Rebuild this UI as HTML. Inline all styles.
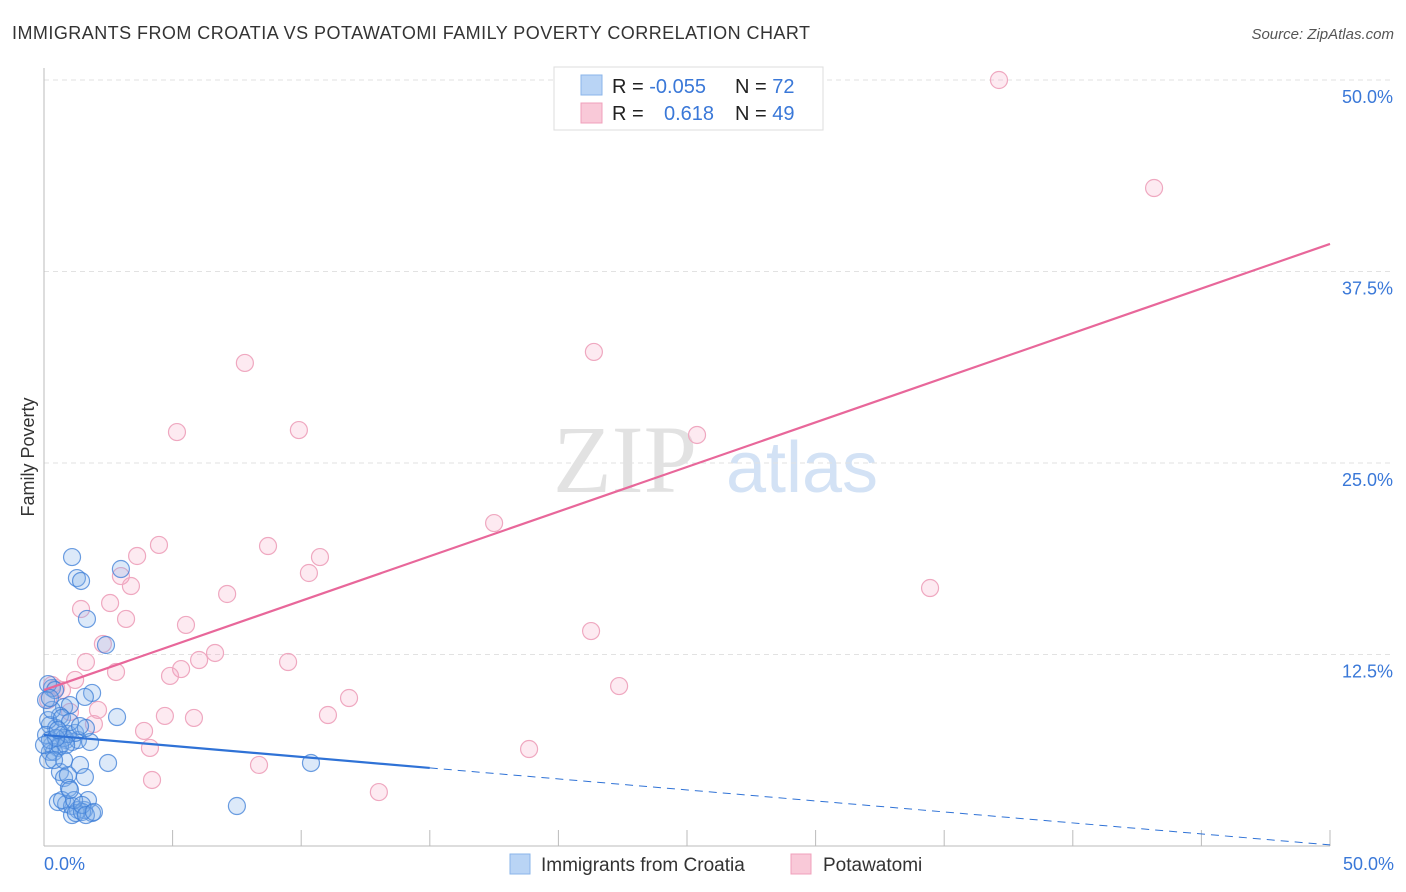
<!DOCTYPE html>
<html><head><meta charset="utf-8"><style>
body{margin:0;background:#fff;font-family:"Liberation Sans",sans-serif}
svg{display:block}
</style></head><body>
<svg id="chart" width="1406" height="892" xmlns="http://www.w3.org/2000/svg">
<text x="12" y="39" font-size="18" fill="#333" textLength="798">IMMIGRANTS FROM CROATIA VS POTAWATOMI FAMILY POVERTY CORRELATION CHART</text>
<text x="1394" y="39" font-size="15" fill="#555" font-style="italic" text-anchor="end">Source: ZipAtlas.com</text>
<text x="34" y="457" font-size="18" fill="#333" text-anchor="middle" transform="rotate(-90 34 457)">Family Poverty</text>
<text x="625" y="492" font-size="96" fill="#e2e2e2" font-family="Liberation Serif,serif" text-anchor="middle">ZIP</text>
<text x="802" y="492" font-size="72" fill="#d3e2f5" text-anchor="middle">atlas</text>
<g id="grid"></g><g id="axes"></g><g id="pts"></g><g id="trend"></g>
<g>
<rect x="554" y="67" width="269" height="63" fill="#fff" stroke="#ddd"/>
<rect x="581" y="75" width="21" height="20" fill="#b9d4f5" stroke="#8ab4ea"/>
<rect x="581" y="103" width="21" height="20" fill="#f9c9d8" stroke="#f0a0bb"/>
<text x="612" y="93" font-size="20" fill="#222">R = <tspan fill="#3a78d8">-0.055</tspan></text>
<text x="735" y="93" font-size="20" fill="#222">N = <tspan fill="#3a78d8">72</tspan></text>
<text x="612" y="120" font-size="20" fill="#222">R = <tspan fill="#3a78d8" x="664">0.618</tspan></text>
<text x="735" y="120" font-size="20" fill="#222">N = <tspan fill="#3a78d8">49</tspan></text>
</g>
<g>
<rect x="510" y="854" width="20" height="20" fill="#b9d4f5" stroke="#8ab4ea"/>
<text x="541" y="871" font-size="19" fill="#333">Immigrants from Croatia</text>
<rect x="791" y="854" width="20" height="20" fill="#f9c9d8" stroke="#f0a0bb"/>
<text x="823" y="871" font-size="19" fill="#333">Potawatomi</text>
</g>
</svg>
<script>
const yTicks=[12.5,25,37.5,50];
const yTickLabels=["12.5%","25.0%","37.5%","50.0%"];
const xTickLabels=["0.0%","50.0%"];
const croatiaX=[1.09,1.28,1.44,1.67,2.99,2.41,2.84,7.50,10.38,1.87,1.59,0.78,1.01,0.31,0.16,0.43,0.62,0.23,0.47,0.70,0.86,1.09,1.32,1.79,0.31,0.54,0.78,0.23,0.39,0.62,0.93,1.21,1.63,0.16,0.08,0.23,1.40,2.49,0.62,0.78,0.93,1.59,0.97,0.54,0.86,1.09,1.32,1.56,1.71,1.87,1.09,1.24,1.48,0.70,1.17,0.86,0.47,0.16,0.31,0.70,1.01,1.40,0.08,0.23,0.54,0.78,1.01,1.48,1.63,1.94,0.00,0.39];
const croatiaY=[18.86,17.49,17.30,14.82,18.08,13.12,8.42,2.61,5.42,9.99,9.73,9.07,9.20,10.31,10.57,10.18,8.49,7.90,7.70,7.25,6.92,6.79,6.92,6.79,6.59,6.40,7.05,6.14,6.14,6.53,7.31,7.38,7.70,8.22,7.25,6.92,5.29,5.42,4.83,4.44,4.63,4.50,3.79,2.87,2.74,2.61,2.35,2.35,3.00,2.15,2.02,2.15,2.22,3.00,3.00,6.59,7.05,5.61,8.88,8.36,8.09,7.83,9.53,9.66,7.57,5.61,3.66,2.68,2.02,2.22,6.59,5.61];
const potaX=[37.13,43.16,21.38,7.81,5.17,9.91,25.39,17.50,34.45,21.27,22.36,4.47,8.71,3.62,10.73,10.30,2.99,3.38,7.12,1.44,2.57,3.19,5.52,2.29,6.65,6.03,9.49,5.33,4.90,1.63,2.80,1.21,11.86,4.70,5.83,11.04,1.94,3.89,18.86,4.12,8.36,4.20,13.02,0.31,0.47,0.70,0.16,1.01,2.10];
const potaY=[50.0,42.95,32.25,31.53,27.02,27.15,26.83,21.08,16.84,14.03,10.44,19.65,19.58,18.93,18.86,17.82,17.62,16.97,16.45,15.47,15.86,14.82,14.43,13.19,12.60,12.14,12.01,11.55,11.10,12.01,11.36,10.84,9.66,8.49,8.36,8.55,7.96,7.51,6.33,6.40,5.29,4.31,3.52,10.51,10.31,10.18,9.53,8.75,8.88];
const potaTrend=[10.18,39.3];
const croTrend=[7.25,0.07];
const croSolidEnd=15;
const X=v=>44+v*25.72, Y=v=>846-v*15.32;
const NS="http://www.w3.org/2000/svg";
function mk(t,a,p){const e=document.createElementNS(NS,t);for(const k in a)e.setAttribute(k,a[k]);p.appendChild(e);return e;}
const grid=document.getElementById('grid'),axes=document.getElementById('axes');
yTicks.forEach((t,i)=>{
 const l=mk('line',{x1:44,x2:1394,y1:Y(t),y2:Y(t),stroke:'#e2e2e2','stroke-dasharray':'5,4'},grid);
 
 
 const tx=mk('text',{x:1393,y:Y(t)+23,'font-size':18,fill:'#3a78d8','text-anchor':'end'},grid);
 tx.textContent=yTickLabels[i];
 
 
});
const ya=mk('line',{x1:44,x2:44,y1:68,y2:846,stroke:'#bbb'},axes);


const xa=mk('line',{x1:44,x2:1330,y1:846,y2:846,stroke:'#bbb'},axes);


for(let i=0;i<=10;i++){const v=i*5;const t=mk('line',{x1:X(v),x2:X(v),y1:830,y2:846,stroke:'#bbb'},axes);
 
 }
[[0,xTickLabels[0],'start',44],[50,xTickLabels[1],'end',1394]].forEach(a=>{const t=mk('text',{x:a[3],y:870,'font-size':18,fill:'#3a78d8','text-anchor':a[2]},axes);t.textContent=a[1];
 
 });
const pts=document.getElementById('pts');
potaX.forEach((x,i)=>{const c=mk('circle',{cx:X(x),cy:Y(potaY[i]),r:8.5,fill:'rgba(245,160,190,0.22)',stroke:'#efa8c0','stroke-width':1.2},pts);
 
 });
croatiaX.forEach((x,i)=>{const c=mk('circle',{cx:X(x),cy:Y(croatiaY[i]),r:8.5,fill:'rgba(130,175,235,0.28)',stroke:'rgba(60,125,215,0.75)','stroke-width':1.2},pts);
 
 });
const tr=document.getElementById('trend');
const pl=mk('line',{x1:X(0),y1:Y(potaTrend[0]),x2:X(50),y2:Y(potaTrend[1]),stroke:'#e8679a','stroke-width':2.2},tr);


const cy=v=>croTrend[0]+(croTrend[1]-croTrend[0])*v/50;
const cl=mk('line',{x1:X(0),y1:Y(cy(0)),x2:X(croSolidEnd),y2:Y(cy(croSolidEnd)),stroke:'#2f72d6','stroke-width':2.2},tr);


const cd=mk('line',{x1:X(croSolidEnd),y1:Y(cy(croSolidEnd)),x2:X(50),y2:Y(cy(50)),stroke:'#2f72d6','stroke-width':1,'stroke-dasharray':'8,6'},tr);


</script>
</body></html>
